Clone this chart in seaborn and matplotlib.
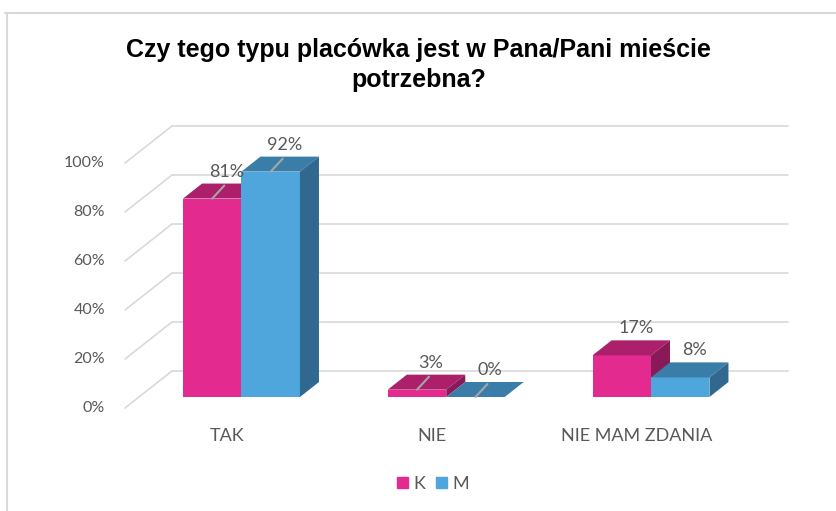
import pandas as pd
import matplotlib
matplotlib.use('Agg')
import matplotlib.pyplot as plt
import seaborn as sns
from matplotlib.patches import Polygon, Patch
from matplotlib.lines import Line2D

# data
categories = ['TAK', 'NIE', 'NIE MAM ZDANIA']
series = ['K', 'M']
values_k = [81, 3, 17]
values_m = [92, 0, 8]
y_ticks = [0, 20, 40, 60, 80, 100]
leader_cats = ['TAK', 'NIE']   # labels that Excel pulled away from the bar
title = 'Czy tego typu placówka jest w Pana/Pani mieście\npotrzebna?'

# styles
front_colors = {'K': '#E32B8F', 'M': '#4EA6DD'}
top_colors = {'K': '#AB1F6B', 'M': '#3A7DA8'}
side_colors = {'K': '#8A1957', 'M': '#316890'}
grid_color = '#D9D9D9'
text_color = '#595959'

W, H = 837, 511
PX_X, PX_Y = 204.75, 2.45       # pixels per category step / per percent
X0, Y0 = 241.5, 397             # pixel of category 0 centre / 0% at bar front
AX_L, AX_R, AX_T, AX_B = 90, 810, 100, 470


def dx(px):
    return px / PX_X


def dy(px):
    return px / PX_Y


def xdata(px):
    return (px - X0) / PX_X


depth = (dx(19), dy(15))        # depth of the bars
front = (dx(-14), dy(-11))      # front plane (axis labels) relative to bars
back = (dx(33), dy(26))         # back wall relative to bars

sns.set_style('white')
plt.rcParams['font.family'] = ['Lato', 'DejaVu Sans']

df = pd.DataFrame({
    'category': categories * 2,
    'sex': ['K'] * len(categories) + ['M'] * len(categories),
    'value': values_k + values_m,
})

fig = plt.figure(figsize=(W / 100, H / 100), dpi=100)
ax = fig.add_axes([AX_L / W, 1 - AX_B / H, (AX_R - AX_L) / W, (AX_B - AX_T) / H])

sns.barplot(data=df, x='category', y='value', hue='sex', order=categories,
            hue_order=series, palette=front_colors, width=0.571, saturation=1,
            linewidth=0, legend=False, ax=ax)

ax.set_xlim(xdata(AX_L), xdata(AX_R))
ax.set_ylim(dy(Y0 - AX_B), dy(Y0 - AX_T))
ax.set_axis_off()

# back wall gridlines + diagonal floor lines
fl_x = xdata(125)
bl_x = fl_x + (back[0] - front[0])
br_x = xdata(788)
for t in y_ticks:
    ax.plot([bl_x, br_x], [t + back[1]] * 2, color=grid_color, lw=1.2, zorder=0)
    ax.plot([fl_x, bl_x], [t + front[1], t + back[1]], color=grid_color, lw=1.2, zorder=0)
    ax.text(xdata(105), t + front[1], f'{t}%', ha='right', va='center',
            fontsize=11.5, color=text_color)

# 3D faces and value labels
for i, (s, cont) in enumerate(zip(series, ax.containers)):
    for cat, bar in zip(categories, cont):
        x, w, h = bar.get_x(), bar.get_width(), bar.get_height()
        bar.set_zorder(2 + i)
        top = Polygon([(x, h), (x + w, h), (x + w + depth[0], h + depth[1]),
                       (x + depth[0], h + depth[1])],
                      closed=True, fc=top_colors[s], ec='none', zorder=2 + i)
        side = Polygon([(x + w, 0), (x + w + depth[0], depth[1]),
                        (x + w + depth[0], h + depth[1]), (x + w, h)],
                       closed=True, fc=side_colors[s], ec='none', zorder=2 + i)
        ax.add_patch(top)
        ax.add_patch(side)
        cx = x + w / 2
        ax.text(cx + dx(14), h + dy(27), f'{h:.0f}%', ha='center', va='center',
                fontsize=13, color=text_color, zorder=5)
        if cat in leader_cats:
            ax.plot([cx, cx + dx(12)], [h, h + dy(13)], color='#A6A6A6',
                    lw=1.5, zorder=4)

for i, cat in enumerate(categories):
    ax.text(i + front[0], dy(-39), cat, ha='center', va='center',
            fontsize=13, color=text_color)

fig.legend(handles=[Patch(color=front_colors[s], label=s) for s in series],
           loc='center', bbox_to_anchor=(433 / W, 1 - 484 / H), ncol=2,
           frameon=False, handlelength=0.6, handleheight=0.6,
           handletextpad=0.3, columnspacing=0.6, fontsize=13,
           labelcolor=text_color)

fig.text(0.5, 1 - 65 / H, title, ha='center', va='center', fontsize=18,
         fontweight='bold', linespacing=1.35, color='black',
         family=['Liberation Sans Narrow', 'Liberation Sans', 'DejaVu Sans'])

# chart area border (only top and left edges are visible in the crop)
fig.add_artist(Line2D([5 / W, 1], [1 - 13 / H] * 2, transform=fig.transFigure,
                      color=grid_color, lw=1.5))
fig.add_artist(Line2D([7 / W] * 2, [1 - 13 / H, 0], transform=fig.transFigure,
                      color=grid_color, lw=1.5))

fig.savefig('out.png', dpi=100)
